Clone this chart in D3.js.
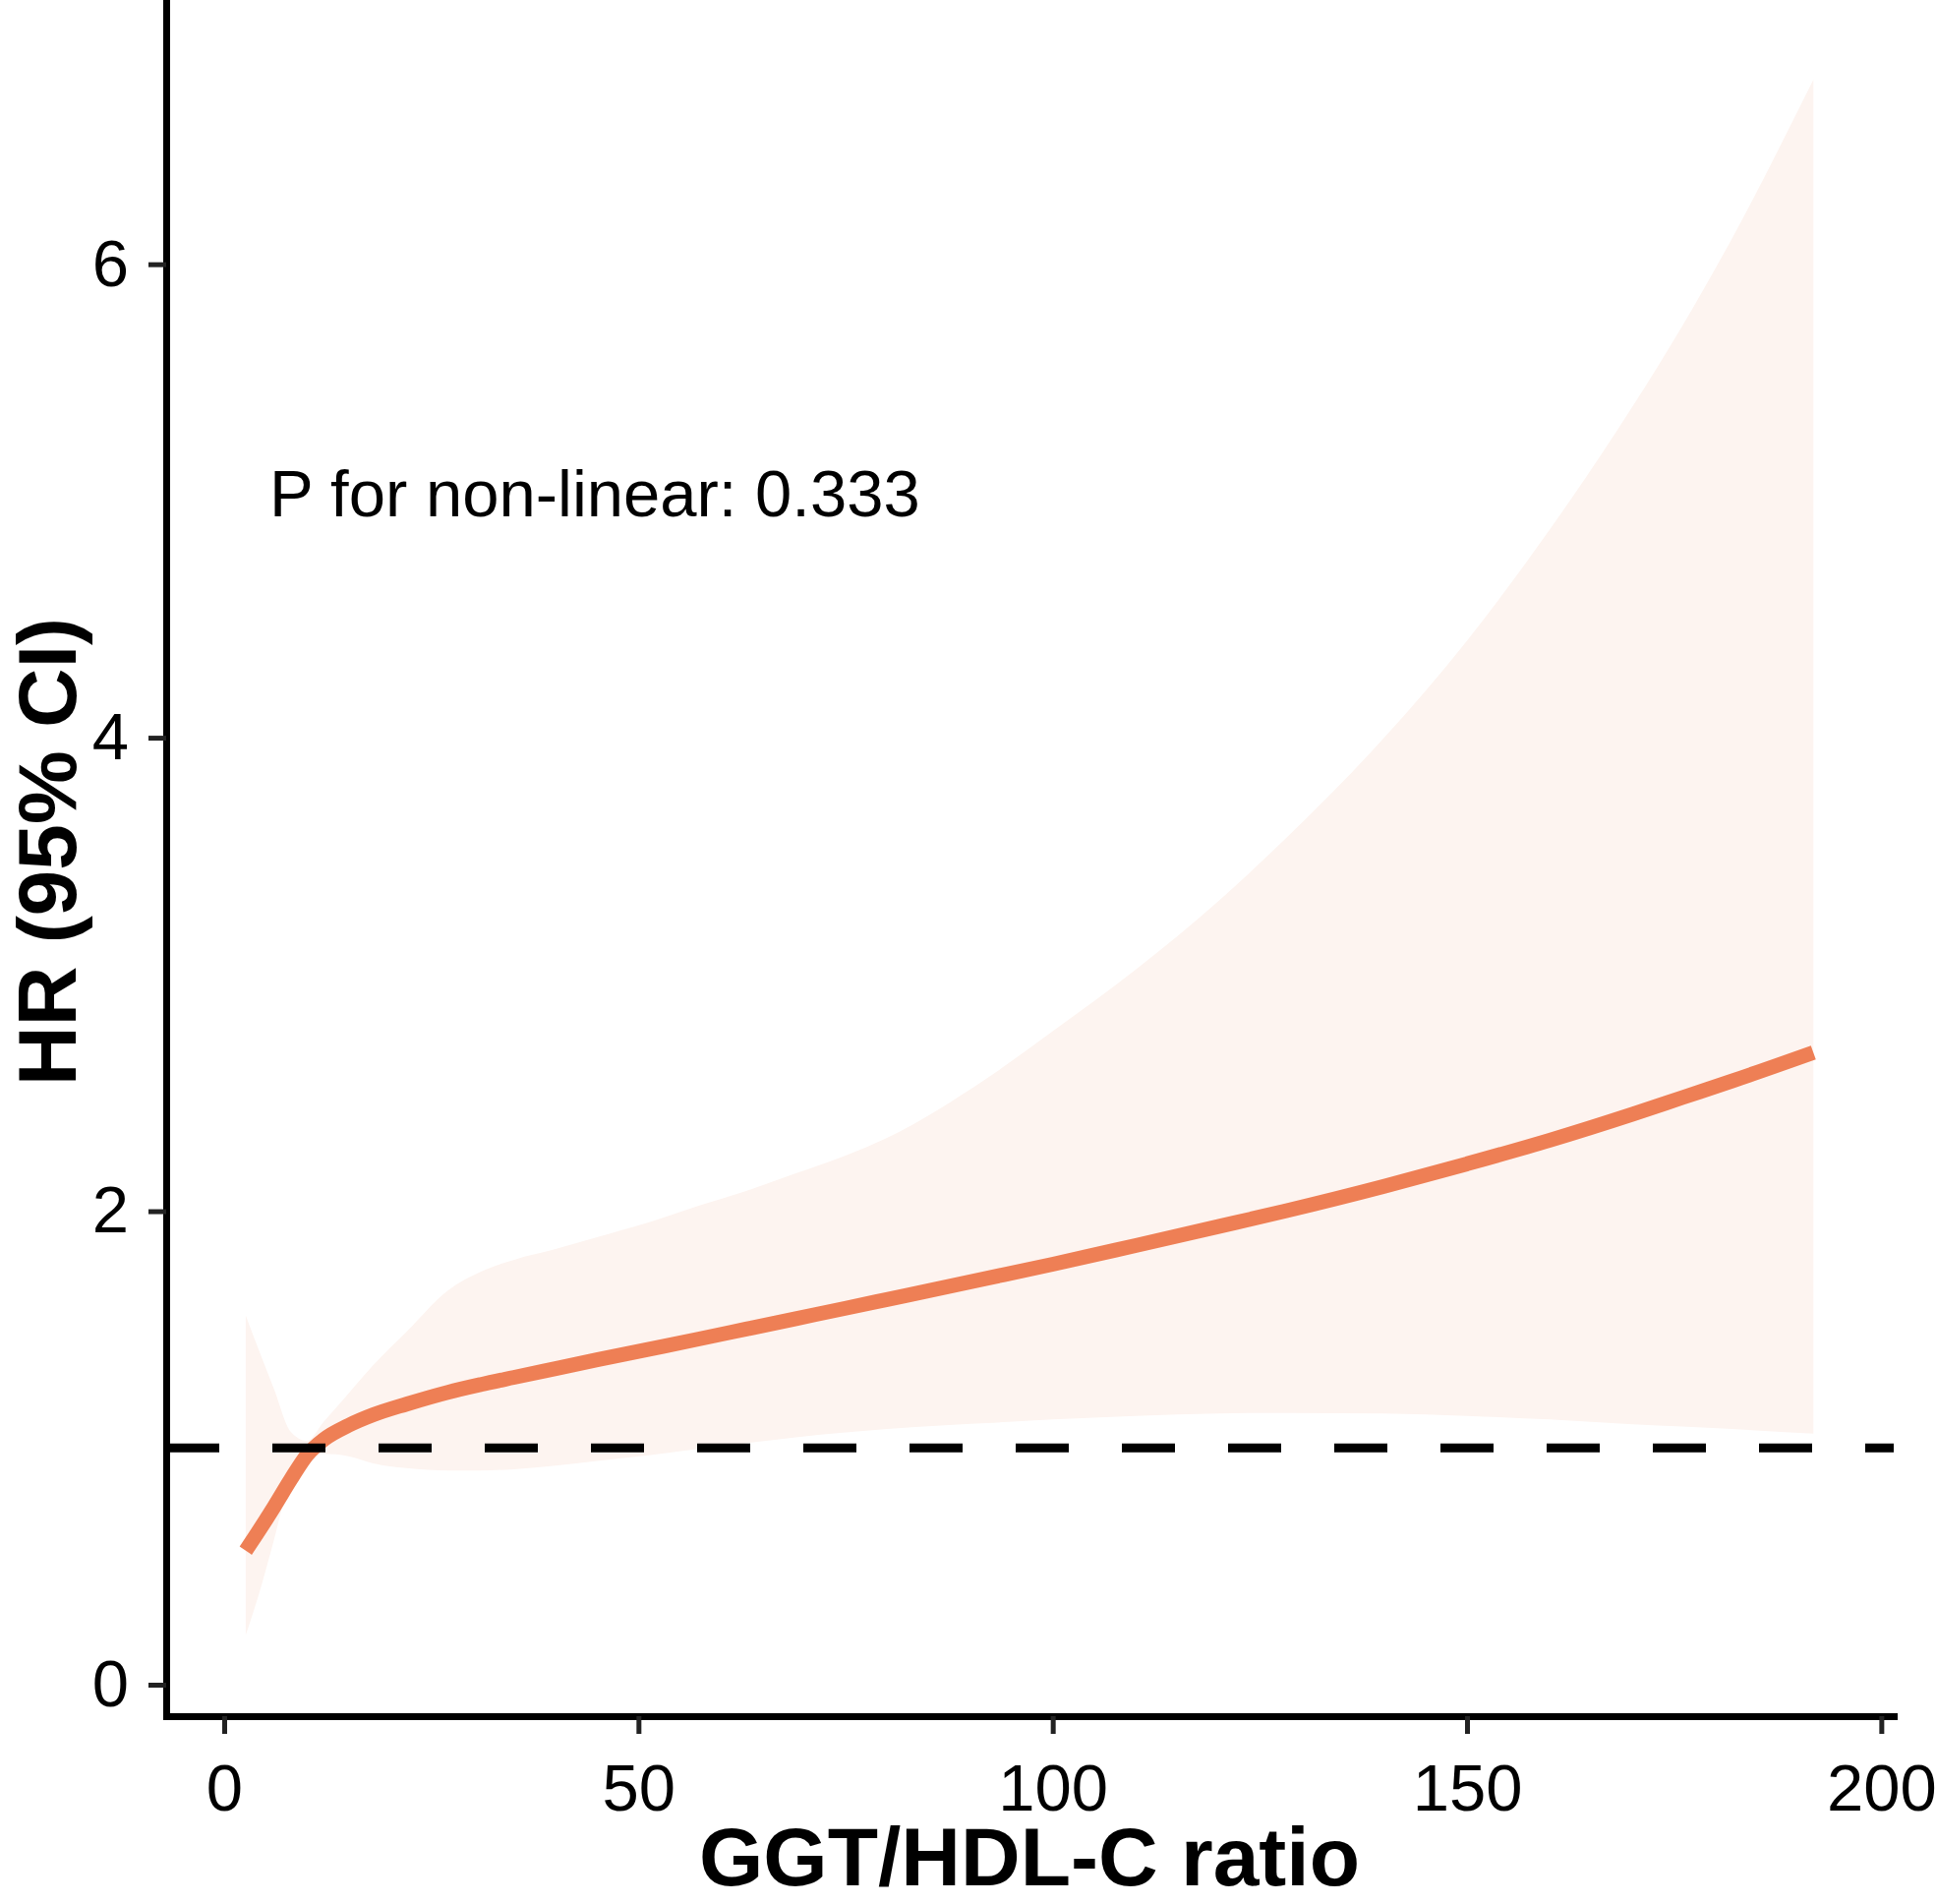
<!DOCTYPE html>
<html>
<head>
<meta charset="utf-8">
<script src="https://cdn.jsdelivr.net/npm/d3@7"></script>
<style>
  body { margin: 0; background: #fff; }
  text { font-family: "Liberation Sans", Arial, sans-serif; }
</style>
</head>
<body>
<svg width="1969" height="1936"></svg>
<script>
const ratio = [2.6, 4, 6, 8, 10, 12, 15, 18, 22, 27, 31, 35, 40, 45, 51, 57, 63, 69, 75, 80,
               92, 100, 110, 120, 128, 140, 150, 160, 170, 176, 182, 191.8];
const hr = [0.566, 0.64, 0.75, 0.865, 0.97, 1.035, 1.095, 1.14, 1.185, 1.235, 1.268, 1.298, 1.335, 1.372, 1.415, 1.458,
            1.502, 1.546, 1.59, 1.627, 1.716, 1.776, 1.855, 1.935, 2.0, 2.105, 2.20, 2.30, 2.41, 2.48, 2.55, 2.67];
const lower = [0.21, 0.36, 0.61, 0.87, 0.955, 0.975, 0.965, 0.935, 0.915, 0.905, 0.905, 0.91, 0.925, 0.945, 0.968, 0.995,
               1.02, 1.045, 1.065, 1.08, 1.105, 1.12, 1.135, 1.145, 1.148, 1.145, 1.135, 1.12, 1.10, 1.09, 1.08, 1.06];
const upper = [1.56, 1.43, 1.25, 1.07, 1.03, 1.11, 1.23, 1.35, 1.49, 1.665, 1.745, 1.795, 1.84, 1.89, 1.95, 2.02,
               2.085, 2.16, 2.235, 2.31, 2.56, 2.76, 3.02, 3.31, 3.57, 4.0, 4.41, 4.88, 5.40, 5.74, 6.11, 6.78];

const xTicks = [0, 50, 100, 150, 200];
const yTicks = [0, 2, 4, 6];
const refHR = 1;
const pLabel = "P for non-linear: 0.333";
const xTitle = "GGT/HDL-C ratio";
const yTitle = "HR (95% CI)";

const svg = d3.select("svg");

const x = d3.scaleLinear().domain([-7, 201.5]).range([169, 1926]);
const y = d3.scaleLinear().domain([-0.133, 7.116]).range([1745, 0]);

const data = ratio.map((r, i) => ({x: r, hr: hr[i], lo: lower[i], hi: upper[i]}));

// confidence band
svg.append("path")
    .datum(data)
    .attr("fill", "#fdf4f0")
    .attr("d", d3.area()
        .x(d => x(d.x))
        .y0(d => y(d.lo))
        .y1(d => y(d.hi))
        .curve(d3.curveMonotoneX));

// HR curve
svg.append("path")
    .datum(data)
    .attr("fill", "none")
    .attr("stroke", "#ee7f55")
    .attr("stroke-width", 15)
    .attr("stroke-linecap", "butt")
    .attr("d", d3.line()
        .x(d => x(d.x))
        .y(d => y(d.hr))
        .curve(d3.curveMonotoneX));

// reference line at HR = 1
svg.append("line")
    .attr("x1", x(-7)).attr("x2", x(201.5))
    .attr("y1", y(refHR)).attr("y2", y(refHR))
    .attr("stroke", "#000")
    .attr("stroke-width", 9)
    .attr("stroke-dasharray", "54,54");

// axes
const xAxis = svg.append("g")
    .attr("transform", "translate(0," + 1745 + ")")
    .call(d3.axisBottom(x).tickValues(xTicks).tickSize(18).tickPadding(30).tickSizeOuter(0));
const yAxis = svg.append("g")
    .attr("transform", "translate(169,0)")
    .call(d3.axisLeft(y).tickValues(yTicks).tickSize(18).tickPadding(20).tickSizeOuter(0));

[xAxis, yAxis].forEach(g => {
    g.select(".domain").attr("stroke", "#000").attr("stroke-width", 7).attr("stroke-linecap", "square");
    g.selectAll(".tick line").attr("stroke", "#222").attr("stroke-width", 5);
    g.selectAll(".tick text")
        .attr("fill", "#000")
        .style("font-family", "'Liberation Sans', Arial, sans-serif")
        .style("font-size", "67px");
});
xAxis.selectAll(".tick text").attr("dy", "0.71em");
yAxis.selectAll(".tick text").attr("dy", "0.32em");

// titles
svg.append("text")
    .attr("x", 1047).attr("y", 1917)
    .attr("text-anchor", "middle")
    .style("font-size", "84px").style("font-weight", "bold")
    .text(xTitle);

svg.append("text")
    .attr("transform", "translate(77,866) rotate(-90)")
    .attr("text-anchor", "middle")
    .style("font-size", "84px").style("font-weight", "bold")
    .text(yTitle);

svg.append("text")
    .attr("x", 274).attr("y", 525)
    .style("font-size", "67px")
    .text(pLabel);
</script>
</body>
</html>
